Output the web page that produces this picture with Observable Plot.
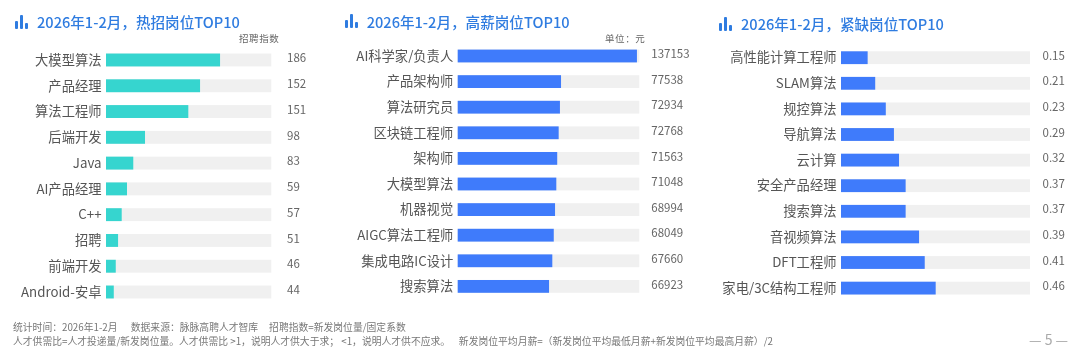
<!DOCTYPE html>
<html><head><meta charset="utf-8">
<script src="https://cdn.jsdelivr.net/npm/d3@7"></script>
<script src="https://cdn.jsdelivr.net/npm/@observablehq/plot@0.6"></script>
<style>
html,body{margin:0;padding:0;background:#fff;}
#page{position:relative;width:1080px;height:353px;overflow:hidden;font-family:"Noto Sans CJK SC","Noto Sans",sans-serif;color:#555;filter:blur(0.35px);}
#page svg.plot,#page svg{position:absolute;top:0;background:transparent;}
.title{position:absolute;font-size:14.6px;font-weight:500;line-height:20px;color:#2f7ce0;white-space:nowrap;}
.icon{position:absolute;display:flex;align-items:flex-end;gap:2.6px;width:13px;height:14px;}
.icon i{display:block;width:3px;background:#2f7ce0;border-radius:1px;}
.unit{position:absolute;font-size:9.5px;line-height:12px;color:#666;letter-spacing:.6px;white-space:nowrap;}
.note{position:absolute;left:13px;font-size:9.8px;line-height:12px;color:#777;white-space:pre;}
.pageno{position:absolute;left:1029px;top:329px;font-size:14px;line-height:20px;color:#aaa;white-space:pre;}
</style></head>
<body><div id="page"></div>
<script>
const hotNames = ["大模型算法","产品经理","算法工程师","后端开发","Java","AI产品经理","C++","招聘","前端开发","Android-安卓"];
const hotValues = ["186","152","151","98","83","59","57","51","46","44"];
const hotBars = [69,56.9,49.8,23.6,16.5,12.7,9.5,7.3,5.9,4.7];

const payNames = ["AI科学家/负责人","产品架构师","算法研究员","区块链工程师","架构师","大模型算法","机器视觉","AIGC算法工程师","集成电路IC设计","搜索算法"];
const payValues = ["137153","77538","72934","72768","71563","71048","68994","68049","67660","66923"];
const payBars = [98.7,56.9,56.3,55.6,54.8,54.3,53.6,52.9,52.1,50.3];

const shortNames = ["高性能计算工程师","SLAM算法","规控算法","导航算法","云计算","安全产品经理","搜索算法","音视频算法","DFT工程师","家电/3C结构工程师"];
const shortValues = ["0.15","0.21","0.23","0.29","0.32","0.37","0.37","0.39","0.41","0.46"];
const shortBars = [14.1,18.1,23.7,28,30.7,34.2,34.2,41.3,44.3,50.1];

const titles = ["2026年1-2月，热招岗位TOP10","2026年1-2月，高薪岗位TOP10","2026年1-2月，紧缺岗位TOP10"];
const notes = [
 "统计时间：2026年1-2月      数据来源：脉脉高聘人才智库     招聘指数=新发岗位量/固定系数",
 "人才供需比=人才投递量/新发岗位量。人才供需比 >1，说明人才供大于求； <1，说明人才供不应求。    新发岗位平均月薪=（新发岗位平均最低月薪+新发岗位平均最高月薪）/2"
];

const page = document.getElementById("page");
function add(cls, text, style){
  const d = document.createElement("div");
  d.className = cls; d.textContent = text; Object.assign(d.style, style);
  page.appendChild(d); return d;
}
function panel(names, values, bars, color, o){
  const rows = names.map((name,i)=>({name, value:values[i], bar:bars[i]}));
  const svg = Plot.plot({
    width:o.left+o.track+o.right, height:353,
    marginLeft:o.left, marginRight:o.right, marginTop:o.top, marginBottom:353-o.top-o.rows,
    x:{domain:[0,100],axis:null},
    y:{domain:names,paddingInner:0.5,paddingOuter:0.25,round:false,label:null},
    style:{fontFamily:'"Noto Sans CJK SC","Noto Sans",sans-serif',overflow:"visible"},
    marks:[
      Plot.axisY({anchor:"left",tickSize:0,tickPadding:5,fontSize:13.3,label:null,color:"#555",tickFormat:d=>d}),
      Plot.barX(rows,{x1:()=>0,x2:()=>100,y:"name",fill:"#f0f0f0"}),
      Plot.barX(rows,{x:"bar",y:"name",fill:color}),
      Plot.text(rows,{x:()=>100,y:"name",text:"value",textAnchor:"start",dx:o.gap,dy:-2,fontSize:11.5,fill:"#666"})
    ]
  });
  svg.style.left = o.x+"px";
  page.appendChild(svg);
}
panel(hotNames,hotValues,hotBars,"#36d5cf",{x:0,left:106,track:165.3,right:60,top:47.1,rows:257.8,gap:15.3});
panel(payNames,payValues,payBars,"#3f7bfb",{x:340,left:117.7,track:181.6,right:60,top:43.2,rows:256,gap:11.5});
panel(shortNames,shortValues,shortBars,"#3f7bfb",{x:700,left:141,track:189,right:50,top:44.9,rows:256,gap:12});

[[37,12,15,15],[366.7,12,345,14],[741,13.5,719,17]].forEach(([tx,ty,ix,iy],i)=>{
  add("title",titles[i],{left:tx+"px",top:ty+"px"});
  const ic = add("icon","",{left:ix+"px",top:iy+"px"});
  ["60%","100%","45%"].forEach(h=>{const b=document.createElement("i");b.style.height=h;ic.appendChild(b);});
});
add("unit","招聘指数",{left:"239px",top:"32px"});
add("unit","单位：元",{left:"605px",top:"32px"});
add("note",notes[0],{top:"321px"});
add("note",notes[1],{top:"335px"});
add("pageno","— 5 —",{});
</script>
</body></html>
